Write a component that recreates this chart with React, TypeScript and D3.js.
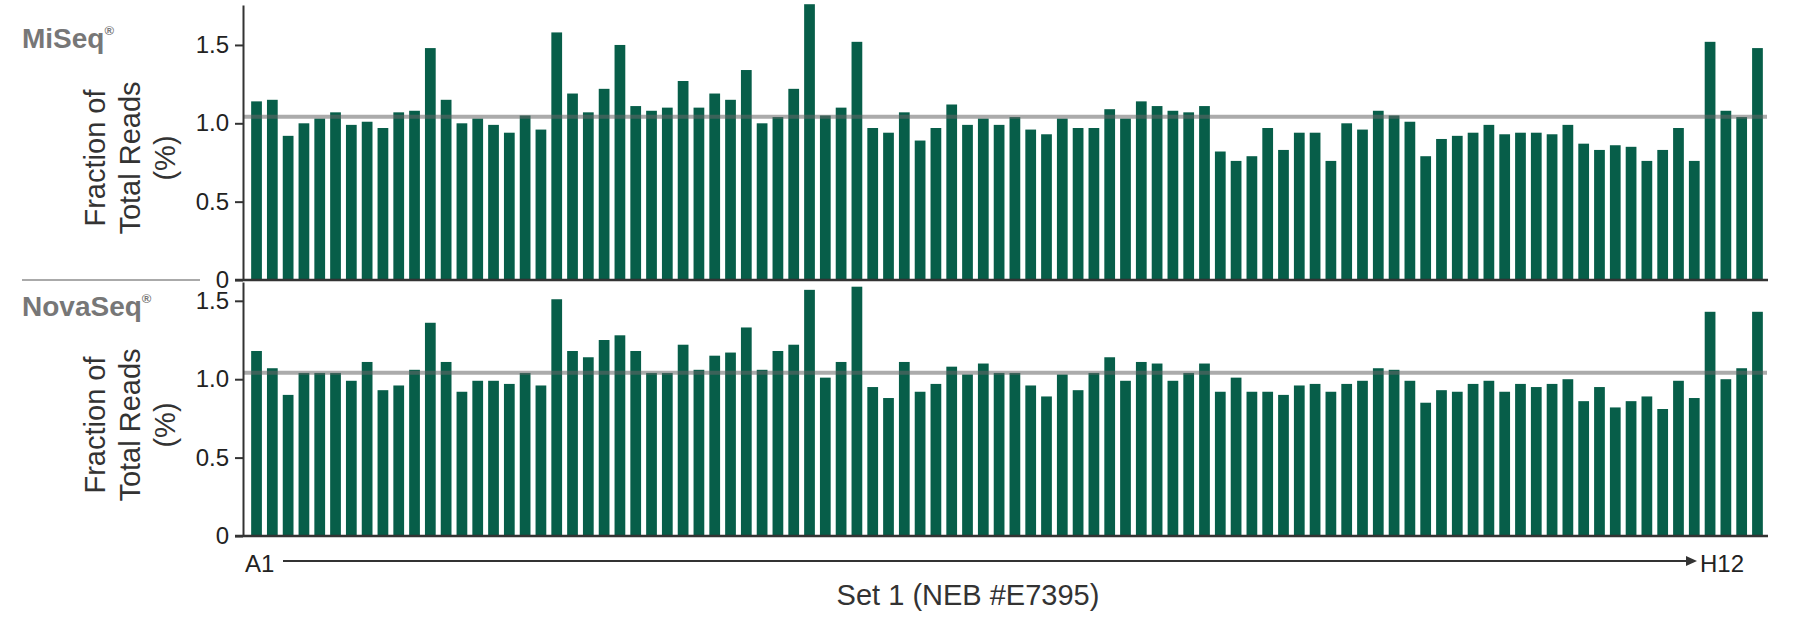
import { useEffect, useRef } from 'react'
import * as d3 from 'd3'

// 96 wells, A1 .. H12, fraction of total reads (%)
const WELLS = d3.range(96).map(i => `${'ABCDEFGH'[Math.floor(i / 12)]}${(i % 12) + 1}`)

const MISEQ = [
  1.14, 1.15, 0.92, 1.00, 1.03, 1.07, 0.99, 1.01, 0.97, 1.07, 1.08, 1.48,
  1.15, 1.00, 1.03, 0.99, 0.94, 1.05, 0.96, 1.58, 1.19, 1.07, 1.22, 1.50,
  1.11, 1.08, 1.10, 1.27, 1.10, 1.19, 1.15, 1.34, 1.00, 1.04, 1.22, 1.76,
  1.05, 1.10, 1.52, 0.97, 0.94, 1.07, 0.89, 0.97, 1.12, 0.99, 1.03, 0.99,
  1.04, 0.96, 0.93, 1.03, 0.97, 0.97, 1.09, 1.03, 1.14, 1.11, 1.08, 1.07,
  1.11, 0.82, 0.76, 0.79, 0.97, 0.83, 0.94, 0.94, 0.76, 1.00, 0.96, 1.08,
  1.05, 1.01, 0.79, 0.90, 0.92, 0.94, 0.99, 0.93, 0.94, 0.94, 0.93, 0.99,
  0.87, 0.83, 0.86, 0.85, 0.76, 0.83, 0.97, 0.76, 1.52, 1.08, 1.04, 1.48,
]

const NOVASEQ = [
  1.18, 1.07, 0.90, 1.04, 1.04, 1.04, 0.99, 1.11, 0.93, 0.96, 1.06, 1.36,
  1.11, 0.92, 0.99, 0.99, 0.97, 1.04, 0.96, 1.51, 1.18, 1.14, 1.25, 1.28,
  1.18, 1.04, 1.04, 1.22, 1.06, 1.15, 1.17, 1.33, 1.06, 1.18, 1.22, 1.57,
  1.01, 1.11, 1.59, 0.95, 0.88, 1.11, 0.92, 0.97, 1.08, 1.03, 1.10, 1.04,
  1.04, 0.96, 0.89, 1.03, 0.93, 1.04, 1.14, 0.99, 1.11, 1.10, 0.99, 1.04,
  1.10, 0.92, 1.01, 0.92, 0.92, 0.90, 0.96, 0.97, 0.92, 0.97, 0.99, 1.07,
  1.06, 0.99, 0.85, 0.93, 0.92, 0.97, 0.99, 0.92, 0.97, 0.95, 0.97, 1.00,
  0.86, 0.95, 0.82, 0.86, 0.89, 0.81, 0.99, 0.88, 1.43, 1.00, 1.07, 1.43,
]

const Y_TICKS = [0, 0.5, 1.0, 1.5]
const EXPECTED = 100 / 96   // even representation

const GREEN = '#075e49'
const FONT = '"Liberation Sans", Arial, Helvetica, sans-serif'

export default function App() {
  const svgRef = useRef<SVGSVGElement>(null)

  useEffect(() => {
    if (!svgRef.current) return
    document.body.style.margin = '0'

    const svg = d3.select(svgRef.current)
    svg.selectAll('*').remove()
    svg.attr('font-family', FONT)

    const axisX = 243
    const x = d3.scaleBand<string>()
      .domain(WELLS)
      .range([248, 1766])
      .paddingInner(0.32)
      .paddingOuter(0.2)

    const panels = [
      { name: 'MiSeq',   values: MISEQ,   max: 1.755, top: 5,   bottom: 280, labelY: 48,  titleY: 158 },
      { name: 'NovaSeq', values: NOVASEQ, max: 1.62,  top: 282, bottom: 536, labelY: 316, titleY: 425 },
    ]

    panels.forEach(p => {
      const y = d3.scaleLinear().domain([0, p.max]).range([p.bottom, p.top])
      const g = svg.append('g')

      // Bars
      g.selectAll('rect')
        .data(p.values)
        .join('rect')
        .attr('x', (_, i) => x(WELLS[i])!)
        .attr('y', d => y(d))
        .attr('width', x.bandwidth())
        .attr('height', d => y(0) - y(d))
        .attr('fill', GREEN)

      // Expected-fraction line
      g.append('line')
        .attr('x1', axisX).attr('x2', 1767)
        .attr('y1', y(EXPECTED)).attr('y2', y(EXPECTED))
        .attr('stroke', '#666').attr('stroke-opacity', 0.55).attr('stroke-width', 4)

      // Y axis
      g.append('g')
        .attr('transform', `translate(${axisX},0)`)
        .call(d3.axisLeft(y).tickValues(Y_TICKS).tickSize(8).tickSizeOuter(0).tickPadding(6)
          .tickFormat(d => (+d === 0 ? '0' : (+d).toFixed(1))))
        .call(sel => {
          sel.select('.domain').attr('stroke', '#333').attr('stroke-width', 2)
          sel.selectAll('.tick line').attr('stroke', '#333').attr('stroke-width', 2)
          sel.selectAll('text').attr('font-size', 24).attr('fill', '#222').attr('font-family', FONT)
        })

      // Baseline
      g.append('line')
        .attr('x1', axisX - 8).attr('x2', 1768)
        .attr('y1', y(0)).attr('y2', y(0))
        .attr('stroke', '#333').attr('stroke-width', 2.5)

      // Instrument label
      const lbl = g.append('text')
        .attr('x', 22).attr('y', p.labelY)
        .attr('font-size', 28).attr('font-weight', 'bold').attr('fill', '#777')
      lbl.append('tspan').text(p.name)
      lbl.append('tspan').attr('font-size', 13).attr('dy', -13).text('®')

      // Y title
      const lines = ['Fraction of', 'Total Reads', '(%)']
      lines.forEach((t, i) => {
        g.append('text')
          .attr('transform', `translate(${105 + i * 35},${p.titleY}) rotate(-90)`)
          .attr('text-anchor', 'middle')
          .attr('font-size', 29).attr('fill', '#333')
          .text(t)
      })
    })

    // Separator between panels
    svg.append('line')
      .attr('x1', 22).attr('x2', 200).attr('y1', 280).attr('y2', 280)
      .attr('stroke', '#aaa').attr('stroke-width', 2)

    // A1 -> H12 arrow
    svg.append('text').attr('x', 245).attr('y', 572)
      .attr('font-size', 24).attr('fill', '#222').text(WELLS[0])
    svg.append('text').attr('x', 1700).attr('y', 572)
      .attr('font-size', 24).attr('fill', '#222').text(WELLS[WELLS.length - 1])
    svg.append('line')
      .attr('x1', 283).attr('x2', 1688).attr('y1', 561).attr('y2', 561)
      .attr('stroke', '#333').attr('stroke-width', 2)
    svg.append('path')
      .attr('d', 'M1697,561 L1686,556 L1686,566 Z')
      .attr('fill', '#333')

    // X title
    svg.append('text')
      .attr('x', 968).attr('y', 605)
      .attr('text-anchor', 'middle')
      .attr('font-size', 29).attr('fill', '#333')
      .text('Set 1 (NEB #E7395)')
  }, [])

  return <svg ref={svgRef} width={1797} height={637} style={{ display: 'block' }} />
}
